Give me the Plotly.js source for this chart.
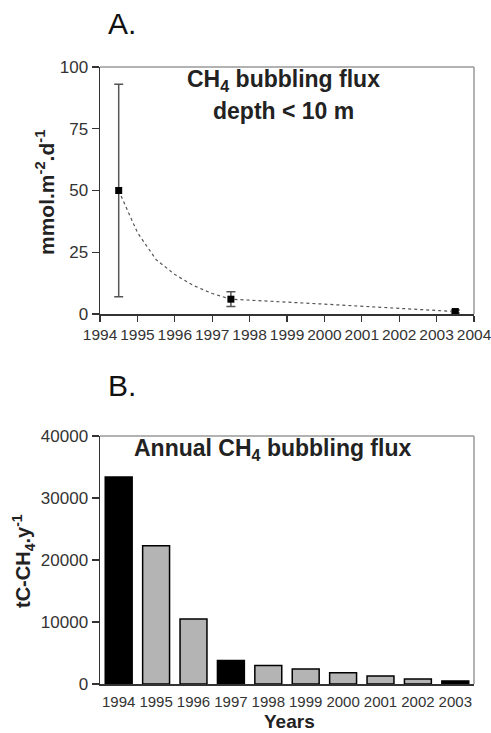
<!DOCTYPE html>
<html>
<head>
<meta charset="utf-8">
<script src="https://cdn.plot.ly/plotly-3.0.1.min.js"></script>
<style>html,body{margin:0;padding:0;background:#fff;}#chart{width:491px;height:733px;}</style>
</head>
<body>
<div id="chart"></div>
<script>
// Panel A: CH4 bubbling flux, depth < 10 m
var obsYears = [1994.5, 1997.5, 2003.5];
var obsFlux = [50, 6, 1];
var obsErrPlus = [43, 3, 0.6];
var obsErrMinus = [43, 3, 0.6];
var fitYears = [1994.5, 1995, 1995.5, 1996, 1996.5, 1997, 1997.5, 1998, 1999, 2000, 2001, 2002, 2003, 2003.5];
var fitFlux = [50, 33, 22, 16, 11.5, 8.3, 6, 5.5, 4.8, 4, 3.2, 2.4, 1.5, 1];
var xTicksA = [1994, 1995, 1996, 1997, 1998, 1999, 2000, 2001, 2002, 2003, 2004];
var yTicksA = [0, 25, 50, 75, 100];

// Panel B: annual CH4 bubbling flux
var barYears = ['1994', '1995', '1996', '1997', '1998', '1999', '2000', '2001', '2002', '2003'];
var barFlux = [33400, 22300, 10500, 3800, 3000, 2400, 1800, 1300, 800, 500];
var barMeasured = [true, false, false, true, false, false, false, false, false, true];
var yTicksB = [0, 10000, 20000, 30000, 40000];

var W = 491, H = 733;
function px(x) { return x / W; }
function py(y) { return 1 - y / H; }

var font = 'Liberation Sans, Arial, Helvetica, sans-serif';
var dark = '#222';

var traces = [
  {
    x: fitYears, y: fitFlux, type: 'scatter', mode: 'lines',
    line: {color: '#555', width: 1.2, dash: 'dot'},
    xaxis: 'x', yaxis: 'y', hoverinfo: 'skip'
  },
  {
    x: obsYears, y: obsFlux, type: 'scatter', mode: 'markers',
    marker: {symbol: 'square', size: 7, color: '#000'},
    error_y: {type: 'data', symmetric: false, array: obsErrPlus, arrayminus: obsErrMinus,
              color: '#555', thickness: 1.5, width: 4.5},
    xaxis: 'x', yaxis: 'y'
  },
  {
    x: barYears, y: barFlux, type: 'bar',
    marker: {color: barMeasured.map(function (m) { return m ? '#000' : '#b4b4b4'; }),
             line: {color: '#000', width: 1.5}},
    xaxis: 'x2', yaxis: 'y2'
  }
];

var layout = {
  width: W, height: H,
  margin: {l: 0, r: 0, t: 0, b: 0},
  paper_bgcolor: '#fff', plot_bgcolor: '#fff',
  showlegend: false,
  font: {family: font, color: dark, size: 14},
  xaxis: {
    domain: [px(100), px(474)], anchor: 'y',
    range: [1994, 2004], tickvals: xTicksA, ticktext: xTicksA.map(String),
    showgrid: false, zeroline: false,
    showline: true, linecolor: '#333', linewidth: 1.5,
    ticks: 'outside', ticklen: 6, tickcolor: '#333', tickwidth: 1.2,
    ticklabelstandoff: 0, tickangle: 0, ticklabeloverflow: 'allow',
    tickfont: {size: 15.5, family: font, color: '#333'}
  },
  yaxis: {
    domain: [py(314), py(67)], anchor: 'x',
    range: [0, 100], tickvals: yTicksA,
    showgrid: false, zeroline: false,
    showline: true, linecolor: '#333', linewidth: 1.5,
    ticks: 'outside', ticklen: 7, tickcolor: '#333', tickwidth: 1.2,
    tickfont: {size: 17, family: font, color: '#333'}
  },
  xaxis2: {
    domain: [px(100), px(474)], anchor: 'y2',
    type: 'category',
    showgrid: false, zeroline: false,
    showline: true, linecolor: '#333', linewidth: 1.5,
    ticks: '', ticklen: 0,
    ticklabelstandoff: 3, tickangle: 0,
    tickfont: {size: 15, family: font, color: '#333'}
  },
  yaxis2: {
    domain: [py(684), py(436)], anchor: 'x2',
    range: [0, 40000], tickvals: yTicksB, ticktext: yTicksB.map(String),
    showgrid: false, zeroline: false,
    showline: true, linecolor: '#333', linewidth: 1.5,
    ticks: 'outside', ticklen: 7, tickcolor: '#333', tickwidth: 1.2,
    tickfont: {size: 17, family: font, color: '#333'}
  },
  bargap: 0.28,
  shapes: [
    {type: 'line', xref: 'x domain', yref: 'y domain', x0: 0, x1: 1, y0: 1, y1: 1, line: {color: '#999', width: 1.5}},
    {type: 'line', xref: 'x domain', yref: 'y domain', x0: 1, x1: 1, y0: 0, y1: 1, line: {color: '#999', width: 1.5}},
    {type: 'line', xref: 'x2 domain', yref: 'y2 domain', x0: 0, x1: 1, y0: 1, y1: 1, line: {color: '#999', width: 1.5}},
    {type: 'line', xref: 'x2 domain', yref: 'y2 domain', x0: 1, x1: 1, y0: 0, y1: 1, line: {color: '#999', width: 1.5}}
  ],
  annotations: [
    {text: 'A.', xref: 'paper', yref: 'paper', x: px(106), y: py(24), xanchor: 'left', yanchor: 'middle',
     showarrow: false, font: {size: 30, family: font, color: '#111'}},
    {text: 'B.', xref: 'paper', yref: 'paper', x: px(106), y: py(385), xanchor: 'left', yanchor: 'middle',
     showarrow: false, font: {size: 30, family: font, color: '#111'}},
    {text: '<b>CH<sub>4</sub> bubbling flux</b>', xref: 'paper', yref: 'paper', x: px(283), y: py(81),
     xanchor: 'center', yanchor: 'middle', showarrow: false, font: {size: 23, family: font, color: '#222'}},
    {text: '<b>depth &lt; 10 m</b>', xref: 'paper', yref: 'paper', x: px(283), y: py(111),
     xanchor: 'center', yanchor: 'middle', showarrow: false, font: {size: 23, family: font, color: '#222'}},
    {text: '<b>Annual CH<sub>4</sub> bubbling flux</b>', xref: 'paper', yref: 'paper', x: px(272), y: py(450),
     xanchor: 'center', yanchor: 'middle', showarrow: false, font: {size: 23, family: font, color: '#222'}},
    {text: '<b>mmol.m<sup>-2</sup>.d<sup>-1</sup></b>', xref: 'paper', yref: 'paper', x: px(45), y: py(193),
     xanchor: 'center', yanchor: 'middle', textangle: -90, showarrow: false, font: {size: 21, family: font, color: '#222'}},
    {text: '<b>tC-CH<sub>4</sub>.y<sup>-1</sup></b>', xref: 'paper', yref: 'paper', x: px(23), y: py(561),
     xanchor: 'center', yanchor: 'middle', textangle: -90, showarrow: false, font: {size: 20, family: font, color: '#222'}},
    {text: '<b>Years</b>', xref: 'paper', yref: 'paper', x: px(289), y: py(721),
     xanchor: 'center', yanchor: 'middle', showarrow: false, font: {size: 19, family: font, color: '#222'}}
  ]
};

Plotly.newPlot('chart', traces, layout, {displayModeBar: false, staticPlot: true});
</script>
</body>
</html>
